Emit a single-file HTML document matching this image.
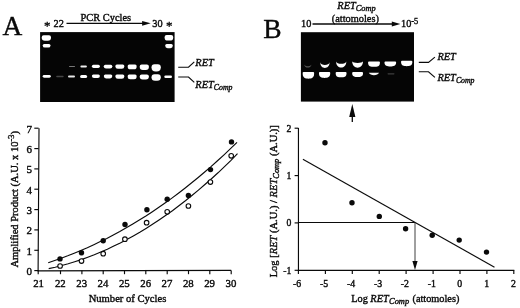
<!DOCTYPE html>
<html><head><meta charset="utf-8"><title>Figure</title>
<style>
html,body{margin:0;padding:0;background:#fff;}
body{width:520px;height:308px;overflow:hidden;}
svg{display:block;}
text{font-family:"Liberation Serif",serif;fill:#0a0a0a;stroke:#0a0a0a;stroke-width:0.38px;}
.i{font-style:italic;}
.ln{stroke:#0a0a0a;stroke-width:1.15;fill:none;}
</style></head><body>
<svg width="520" height="308" viewBox="0 0 520 308">
<defs>
<filter id="b1" x="-20%" y="-50%" width="140%" height="200%"><feGaussianBlur stdDeviation="0.6"/></filter>
<filter id="b2" x="-20%" y="-50%" width="140%" height="200%"><feGaussianBlur stdDeviation="0.45"/></filter>
</defs>
<rect x="0" y="0" width="520" height="308" fill="#fff"/>

<text x="2.5" y="35.2" font-size="27.4">A</text>
<text x="263.2" y="37.8" font-size="27.5">B</text>
<rect x="40.1" y="32.1" width="134.5" height="69.9" fill="#050505"/>
<g filter="url(#b1)">
<path d="M43.70 35.20 H49.00 Q51.00 35.20 51.00 37.20 V37.60 Q51.00 40.80 47.80 40.80 H44.90 Q41.70 40.80 41.70 37.60 V37.20 Q41.70 35.20 43.70 35.20 Z" fill="#fff"/>
<path d="M44.20 43.90 H49.00 Q50.50 43.90 50.50 45.40 V45.40 Q50.50 47.60 48.30 47.60 H44.90 Q42.70 47.60 42.70 45.40 V45.40 Q42.70 43.90 44.20 43.90 Z" fill="#fff"/>
<path d="M44.10 74.90 H49.40 Q50.80 74.90 50.80 76.30 V76.30 Q50.80 77.70 49.40 77.70 H44.10 Q42.70 77.70 42.70 76.30 V76.30 Q42.70 74.90 44.10 74.90 Z" fill="#fff"/>
<path d="M166.60 34.90 H171.20 Q173.20 34.90 173.20 36.90 V37.40 Q173.20 40.60 170.00 40.60 H167.80 Q164.60 40.60 164.60 37.40 V36.90 Q164.60 34.90 166.60 34.90 Z" fill="#fff"/>
<path d="M166.70 43.90 H171.30 Q172.80 43.90 172.80 45.40 V45.80 Q172.80 48.20 170.40 48.20 H167.60 Q165.20 48.20 165.20 45.80 V45.40 Q165.20 43.90 166.70 43.90 Z" fill="#fff"/>
<path d="M165.60 75.40 H170.70 Q172.00 75.40 172.00 76.70 V76.70 Q172.00 78.00 170.70 78.00 H165.60 Q164.30 78.00 164.30 76.70 V76.70 Q164.30 75.40 165.60 75.40 Z" fill="#fff"/>
<rect x="56.2" y="75.8" width="7.4" height="1.4" rx="0.7" ry="0.7" fill="#444"/>
<rect x="68.0" y="75.4" width="7.0" height="2.0" rx="1" ry="1" fill="#e8e8e8"/>
<path d="M81.60 74.90 H85.60 Q87.10 74.90 87.10 76.40 V76.40 Q87.10 77.90 85.60 77.90 H81.60 Q80.10 77.90 80.10 76.40 V76.40 Q80.10 74.90 81.60 74.90 Z" fill="#fff"/>
<path d="M93.40 74.50 H98.40 Q99.90 74.50 99.90 76.00 V76.00 Q99.90 78.10 97.80 78.10 H94.00 Q91.90 78.10 91.90 76.00 V76.00 Q91.90 74.50 93.40 74.50 Z" fill="#fff"/>
<path d="M105.30 74.60 H110.80 Q112.30 74.60 112.30 76.10 V76.10 Q112.30 78.40 110.00 78.40 H106.10 Q103.80 78.40 103.80 76.10 V76.10 Q103.80 74.60 105.30 74.60 Z" fill="#fff"/>
<path d="M116.90 74.60 H122.80 Q124.30 74.60 124.30 76.10 V76.40 Q124.30 78.80 121.90 78.80 H117.80 Q115.40 78.80 115.40 76.40 V76.10 Q115.40 74.60 116.90 74.60 Z" fill="#fff"/>
<path d="M129.20 74.60 H135.10 Q136.60 74.60 136.60 76.10 V76.67 Q136.60 79.20 134.07 79.20 H130.23 Q127.70 79.20 127.70 76.67 V76.10 Q127.70 74.60 129.20 74.60 Z" fill="#fff"/>
<path d="M141.70 74.60 H146.90 Q148.90 74.60 148.90 76.60 V76.60 Q148.90 79.60 145.90 79.60 H142.70 Q139.70 79.60 139.70 76.60 V76.60 Q139.70 74.60 141.70 74.60 Z" fill="#fff"/>
<path d="M154.50 74.20 H157.80 Q160.80 74.20 160.80 77.20 V77.20 Q160.80 80.80 157.20 80.80 H155.10 Q151.50 80.80 151.50 77.20 V77.20 Q151.50 74.20 154.50 74.20 Z" fill="#fff"/>
<rect x="69.0" y="66.0" width="6.0" height="1.0" rx="0.5" ry="0.5" fill="#777"/>
<rect x="80.4" y="65.5" width="6.5" height="1.9" rx="1" ry="1" fill="#eee"/>
<path d="M93.40 64.70 H98.40 Q99.90 64.70 99.90 66.20 V66.20 Q99.90 67.90 98.20 67.90 H93.60 Q91.90 67.90 91.90 66.20 V66.20 Q91.90 64.70 93.40 64.70 Z" fill="#fff"/>
<path d="M105.30 64.80 H110.80 Q112.30 64.80 112.30 66.30 V66.30 Q112.30 68.50 110.10 68.50 H106.00 Q103.80 68.50 103.80 66.30 V66.30 Q103.80 64.80 105.30 64.80 Z" fill="#fff"/>
<path d="M116.90 64.60 H122.80 Q124.30 64.60 124.30 66.10 V66.40 Q124.30 68.80 121.90 68.80 H117.80 Q115.40 68.80 115.40 66.40 V66.10 Q115.40 64.60 116.90 64.60 Z" fill="#fff"/>
<path d="M129.20 64.60 H135.10 Q136.60 64.60 136.60 66.10 V66.71 Q136.60 69.30 134.01 69.30 H130.28 Q127.70 69.30 127.70 66.71 V66.10 Q127.70 64.60 129.20 64.60 Z" fill="#fff"/>
<path d="M141.70 64.50 H146.90 Q148.90 64.50 148.90 66.50 V66.80 Q148.90 70.00 145.70 70.00 H142.90 Q139.70 70.00 139.70 66.80 V66.50 Q139.70 64.50 141.70 64.50 Z" fill="#fff"/>
<path d="M154.50 64.30 H157.80 Q160.80 64.30 160.80 67.30 V67.30 Q160.80 71.60 156.50 71.60 H155.80 Q151.50 71.60 151.50 67.30 V67.30 Q151.50 64.30 154.50 64.30 Z" fill="#fff"/>
</g>
<text x="44" y="29.8" font-size="13">*</text>
<text x="53.6" y="26.6" font-size="10.3">22</text>
<text x="80.6" y="20.9" font-size="10.4">PCR Cycles</text>
<path class="ln" d="M66.5 23.3 H144" style="stroke-width:1.35"/>
<path d="M150.7 23.3 L142.1 20.9 L142.1 25.7 Z" fill="#0a0a0a"/>
<text x="152.3" y="26.6" font-size="10.3">30</text>
<text x="166" y="29.8" font-size="13">*</text>
<path class="ln" d="M178.2 67.2 H188.5 L194.3 61.8"/>
<text class="i" x="195.3" y="66.4" font-size="10.4">RET</text>
<path class="ln" d="M178.2 77 H188.5 L194.3 82.4"/>
<text class="i" x="195.3" y="87.8" font-size="10.4">RET<tspan font-size="7.8" dy="2">Comp</tspan></text>
<rect x="300.9" y="32.2" width="113.1" height="69.4" fill="#050505"/>
<g filter="url(#b2)">
<path d="M302.70 72.70 Q302.70 71.90 303.60 71.90 H313.20 Q314.10 71.90 314.10 72.70 V73.80 C314.10 77.88 311.48 78.70 308.40 78.70 C305.32 78.70 302.70 77.88 302.70 73.80 Z" fill="#fff"/>
<path d="M319.00 72.70 Q319.00 71.90 319.90 71.90 H329.30 Q330.20 71.90 330.20 72.70 V73.61 C330.20 77.27 327.62 78.00 324.60 78.00 C321.58 78.00 319.00 77.27 319.00 73.61 Z" fill="#fff"/>
<path d="M335.70 72.70 Q335.70 71.90 336.60 71.90 H345.60 Q346.50 71.90 346.50 72.70 V73.41 C346.50 76.65 344.02 77.30 341.10 77.30 C338.18 77.30 335.70 76.65 335.70 73.41 Z" fill="#fff"/>
<path d="M352.20 72.90 Q352.20 72.10 353.10 72.10 H362.10 Q363.00 72.10 363.00 72.90 V73.47 C363.00 76.41 360.52 77.00 357.60 77.00 C354.68 77.00 352.20 76.41 352.20 73.47 Z" fill="#fff"/>
<path d="M368.8 72.8 H379 C378 76 370 76 368.8 72.8 Z" fill="#f4f4f4"/>
<rect x="387.5" y="73.2" width="7" height="1.2" rx="0.6" fill="#3c3c3c"/>
<path d="M304.2 64.4 C304.2 68.5 311.4 68.5 311.4 64.4 C310.9 66.8 304.7 66.8 304.2 64.4 Z" fill="#5a5a5a"/>
<path d="M320.2 62.3 C320.2 69.9 329.6 69.9 329.6 62.3 C329.1 66.0 320.7 66.0 320.2 62.3 Z" fill="#f8f8f8"/>
<path d="M336.1 61.4 C336.1 69.5 346.3 69.5 346.3 61.4 C345.8 64.7 336.6 64.7 336.1 61.4 Z" fill="#fff"/>
<path d="M352.2 61.3 C352.2 69.8 363.0 69.8 363.0 61.3 C362.5 63.4 352.7 63.4 352.2 61.3 Z" fill="#fff"/>
<path d="M368.10 62.20 Q368.10 61.40 369.00 61.40 H379.00 Q379.90 61.40 379.90 62.20 V62.91 C379.90 66.15 377.19 66.80 374.00 66.80 C370.81 66.80 368.10 66.15 368.10 62.91 Z" fill="#fff"/>
<path d="M384.50 62.20 Q384.50 61.40 385.40 61.40 H395.20 Q396.10 61.40 396.10 62.20 V62.83 C396.10 65.89 393.43 66.50 390.30 66.50 C387.17 66.50 384.50 65.89 384.50 62.83 Z" fill="#fff"/>
<path d="M401.10 61.60 Q401.10 60.80 402.00 60.80 H411.40 Q412.30 60.80 412.30 61.60 V62.31 C412.30 65.55 409.72 66.20 406.70 66.20 C403.68 66.20 401.10 65.55 401.10 62.31 Z" fill="#fff"/>
</g>
<text class="i" x="337.3" y="9.1" font-size="10.4">RET<tspan font-size="8.4" dy="2.3">Comp</tspan></text>
<text x="331.8" y="21.7" font-size="10.35">(attomoles)</text>
<text x="301" y="27.3" font-size="10.3">10</text>
<path class="ln" d="M312.5 24.0 H393" style="stroke-width:1.35"/>
<path d="M400.4 24.0 L391.8 21.6 L391.8 26.4 Z" fill="#0a0a0a"/>
<text x="401" y="27.3" font-size="10.3">10<tspan font-size="8.4" dy="-3.3">-5</tspan></text>
<path class="ln" d="M418.8 62.4 H428.5 L434.9 57.1"/>
<text class="i" x="437.4" y="59.6" font-size="10.4">RET</text>
<path class="ln" d="M418.8 71.7 H428.5 L434.9 77.4"/>
<text class="i" x="437.4" y="81.3" font-size="10.4">RET<tspan font-size="7.8" dy="2">Comp</tspan></text>
<path class="ln" d="M352.3 114 V122" style="stroke-width:1.3"/>
<path d="M352.3 104 L349.2 117 L355.4 117 Z" fill="#0a0a0a"/>
<path class="ln" d="M39.0 128.2 L38.1 270.9 L231.2 270.3"/>
<path class="ln" d="M34.3 270.6 H38.6"/>
<text x="31.9" y="275.1" font-size="11" text-anchor="end">0</text>
<path class="ln" d="M34.3 250.3 H38.6"/>
<text x="31.9" y="254.8" font-size="11" text-anchor="end">1</text>
<path class="ln" d="M34.3 229.9 H38.6"/>
<text x="31.9" y="234.4" font-size="11" text-anchor="end">2</text>
<path class="ln" d="M34.3 209.6 H38.6"/>
<text x="31.9" y="214.1" font-size="11" text-anchor="end">3</text>
<path class="ln" d="M34.3 189.2 H38.6"/>
<text x="31.9" y="193.7" font-size="11" text-anchor="end">4</text>
<path class="ln" d="M34.3 168.9 H38.6"/>
<text x="31.9" y="173.4" font-size="11" text-anchor="end">5</text>
<path class="ln" d="M34.3 148.6 H38.6"/>
<text x="31.9" y="153.1" font-size="11" text-anchor="end">6</text>
<path class="ln" d="M34.3 128.2 H38.6"/>
<text x="31.9" y="132.7" font-size="11" text-anchor="end">7</text>
<path class="ln" d="M38.2 270.6 V274.2"/>
<text x="38.6" y="287" font-size="10.8" text-anchor="middle">21</text>
<path class="ln" d="M60.5 270.6 V274.2"/>
<text x="60.3" y="287" font-size="10.8" text-anchor="middle">22</text>
<path class="ln" d="M81.9 270.6 V274.2"/>
<text x="81.7" y="287" font-size="10.8" text-anchor="middle">23</text>
<path class="ln" d="M103.2 270.6 V274.2"/>
<text x="103.0" y="287" font-size="10.8" text-anchor="middle">24</text>
<path class="ln" d="M124.5 270.6 V274.2"/>
<text x="124.3" y="287" font-size="10.8" text-anchor="middle">25</text>
<path class="ln" d="M145.8 270.6 V274.2"/>
<text x="145.7" y="287" font-size="10.8" text-anchor="middle">26</text>
<path class="ln" d="M167.2 270.6 V274.2"/>
<text x="167.0" y="287" font-size="10.8" text-anchor="middle">27</text>
<path class="ln" d="M188.5 270.6 V274.2"/>
<text x="188.3" y="287" font-size="10.8" text-anchor="middle">28</text>
<path class="ln" d="M209.8 270.6 V274.2"/>
<text x="209.6" y="287" font-size="10.8" text-anchor="middle">29</text>
<path class="ln" d="M231.2 270.6 V274.2"/>
<text x="231.0" y="287" font-size="10.8" text-anchor="middle">30</text>
<text x="127.5" y="302.3" font-size="10.6" text-anchor="middle">Number of Cycles</text>
<text transform="translate(17.7,267.6) rotate(-90)" font-size="10.5">Amplified Product (A.U. x 10<tspan font-size="8.4" dy="-3.4">-3</tspan><tspan dy="3.4">)</tspan></text>
<path class="ln" d="M48.2 262.7 L54.7 260.5 L61.2 258.2 L67.7 255.8 L74.2 253.2 L80.8 250.5 L87.3 247.7 L93.8 244.7 L100.3 241.6 L106.8 238.4 L113.3 235.0 L119.8 231.5 L126.3 227.8 L132.8 224.0 L139.3 220.1 L145.9 216.0 L152.4 211.7 L158.9 207.3 L165.4 202.8 L171.9 198.1 L178.4 193.2 L184.9 188.2 L191.4 183.0 L197.9 177.7 L204.4 172.2 L211.0 166.6 L217.5 160.8 L224.0 154.8 L230.5 148.7 L237.0 142.4"/>
<path class="ln" d="M48.7 268.6 L55.2 267.2 L61.7 265.5 L68.2 263.7 L74.7 261.7 L81.3 259.6 L87.8 257.2 L94.3 254.7 L100.8 252.0 L107.3 249.2 L113.8 246.1 L120.3 242.9 L126.8 239.5 L133.3 235.9 L139.8 232.2 L146.4 228.2 L152.9 224.1 L159.4 219.8 L165.9 215.3 L172.4 210.7 L178.9 205.8 L185.4 200.8 L191.9 195.5 L198.4 190.1 L204.9 184.5 L211.5 178.7 L218.0 172.8 L224.5 166.6 L231.0 160.3 L237.5 153.7"/>
<circle cx="60" cy="258.9" r="2.7" fill="#0a0a0a"/>
<circle cx="81.5" cy="252.8" r="2.7" fill="#0a0a0a"/>
<circle cx="103.2" cy="240.8" r="2.7" fill="#0a0a0a"/>
<circle cx="125" cy="224.5" r="2.7" fill="#0a0a0a"/>
<circle cx="146.9" cy="209.8" r="2.7" fill="#0a0a0a"/>
<circle cx="167.2" cy="199.2" r="2.7" fill="#0a0a0a"/>
<circle cx="188.4" cy="195.4" r="2.7" fill="#0a0a0a"/>
<circle cx="210.5" cy="169.6" r="2.7" fill="#0a0a0a"/>
<circle cx="231.5" cy="141.9" r="2.7" fill="#0a0a0a"/>
<circle cx="60.1" cy="266" r="2.3" fill="#fff" stroke="#0a0a0a" stroke-width="1.1"/>
<circle cx="81.5" cy="261.1" r="2.3" fill="#fff" stroke="#0a0a0a" stroke-width="1.1"/>
<circle cx="103.2" cy="253.7" r="2.3" fill="#fff" stroke="#0a0a0a" stroke-width="1.1"/>
<circle cx="124.9" cy="239.2" r="2.3" fill="#fff" stroke="#0a0a0a" stroke-width="1.1"/>
<circle cx="146.6" cy="222.7" r="2.3" fill="#fff" stroke="#0a0a0a" stroke-width="1.1"/>
<circle cx="167.2" cy="211.8" r="2.3" fill="#fff" stroke="#0a0a0a" stroke-width="1.1"/>
<circle cx="188.4" cy="206" r="2.3" fill="#fff" stroke="#0a0a0a" stroke-width="1.1"/>
<circle cx="210.4" cy="182.1" r="2.3" fill="#fff" stroke="#0a0a0a" stroke-width="1.1"/>
<circle cx="231.2" cy="155.8" r="2.3" fill="#fff" stroke="#0a0a0a" stroke-width="1.1"/>
<path class="ln" d="M298.45 128 V270.3 H514.3"/>
<path class="ln" d="M294.6 270.3 H298.45"/>
<text x="291.3" y="273.6" font-size="9.7" text-anchor="end">-1</text>
<path class="ln" d="M294.6 222.9 H298.45"/>
<text x="291.3" y="226.2" font-size="9.7" text-anchor="end">0</text>
<path class="ln" d="M294.6 175.6 H298.45"/>
<text x="291.3" y="178.9" font-size="9.7" text-anchor="end">1</text>
<path class="ln" d="M294.6 128.2 H298.45"/>
<text x="291.3" y="131.5" font-size="9.7" text-anchor="end">2</text>
<path class="ln" d="M298.4 270.3 V273.9"/>
<text x="297.2" y="286.7" font-size="9.8" text-anchor="middle">-6</text>
<path class="ln" d="M325.4 270.3 V273.9"/>
<text x="324.2" y="286.7" font-size="9.8" text-anchor="middle">-5</text>
<path class="ln" d="M352.3 270.3 V273.9"/>
<text x="351.1" y="286.7" font-size="9.8" text-anchor="middle">-4</text>
<path class="ln" d="M379.2 270.3 V273.9"/>
<text x="378.0" y="286.7" font-size="9.8" text-anchor="middle">-3</text>
<path class="ln" d="M406.1 270.3 V273.9"/>
<text x="404.9" y="286.7" font-size="9.8" text-anchor="middle">-2</text>
<path class="ln" d="M433.1 270.3 V273.9"/>
<text x="431.9" y="286.7" font-size="9.8" text-anchor="middle">-1</text>
<path class="ln" d="M460.0 270.3 V273.9"/>
<text x="459.7" y="286.7" font-size="9.8" text-anchor="middle">0</text>
<path class="ln" d="M486.9 270.3 V273.9"/>
<text x="486.6" y="286.7" font-size="9.8" text-anchor="middle">1</text>
<path class="ln" d="M513.8 270.3 V273.9"/>
<text x="513.5" y="286.7" font-size="9.8" text-anchor="middle">2</text>
<text x="351.2" y="301.9" font-size="10.3">Log <tspan class="i">RET</tspan><tspan class="i" font-size="8.4" dy="2.2" dx="0.4">Comp</tspan><tspan dy="-2.2" dx="0.8"> (attomoles)</tspan></text>
<text transform="translate(276.8,277.3) rotate(-90)" font-size="10.5">Log [<tspan class="i">RET</tspan> (A.U.) / <tspan class="i">RET</tspan><tspan class="i" font-size="8.4" dy="2.2">Comp</tspan><tspan dy="-2.2"> (A.U.)]</tspan></text>
<path class="ln" d="M302.9 159.3 L494.5 267.2"/>
<path class="ln" d="M298.45 222.5 H415"/>
<path class="ln" d="M415 222.5 V262" style="stroke-width:0.9;stroke:#2a2a2a"/>
<path d="M415 270 L412.4 261 L417.6 261 Z" fill="#0a0a0a"/>
<circle cx="325" cy="142.8" r="2.7" fill="#0a0a0a"/>
<circle cx="352" cy="202.7" r="2.7" fill="#0a0a0a"/>
<circle cx="379.3" cy="216.4" r="2.7" fill="#0a0a0a"/>
<circle cx="405.6" cy="228.7" r="2.7" fill="#0a0a0a"/>
<circle cx="432.2" cy="235.2" r="2.7" fill="#0a0a0a"/>
<circle cx="459.2" cy="240.1" r="2.7" fill="#0a0a0a"/>
<circle cx="486.5" cy="252.1" r="2.7" fill="#0a0a0a"/>
</svg></body></html>
